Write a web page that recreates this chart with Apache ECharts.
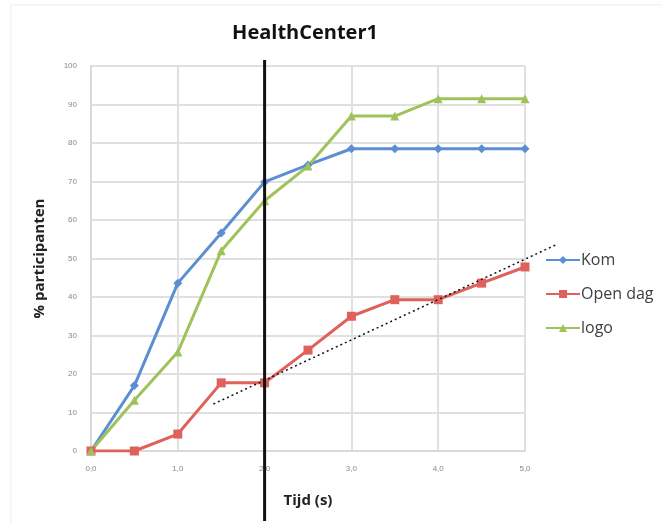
<!DOCTYPE html>
<html>
<head>
<meta charset="utf-8">
<script src="https://cdn.jsdelivr.net/npm/echarts@6/dist/echarts.min.js"></script>
<style>
  html, body { margin: 0; padding: 0; background: #fff; }
  #chart { width: 662px; height: 524px; }
</style>
</head>
<body>
<div id="chart"></div>
<script>
// tijdstippen (s)
const times = [0, 0.5, 1.0, 1.5, 2.0, 2.5, 3.0, 3.5, 4.0, 4.5, 5.0];
// % participanten per reeks
const kom = [0, 17, 43.6, 56.6, 69.9, 74.3, 78.5, 78.5, 78.5, 78.5, 78.5];
const openDag = [0, 0, 4.4, 17.7, 17.7, 26.2, 35, 39.3, 39.3, 43.6, 47.8];
const logo = [0, 13.2, 25.7, 52, 65, 74, 87, 87, 91.5, 91.5, 91.5];
// trendlijn (stippellijn) en verticale markering
const trendX = [1.41, 5.38];
const trendY = [12.2, 53.8];
const markerTime = 2.0;

const pairs = (xs, ys) => xs.map((t, i) => [t, ys[i]]);

const chart = echarts.init(document.getElementById('chart'));

const option = {
  animation: false,
  title: {
    text: 'HealthCenter1',
    left: 300,
    top: 18,
    textAlign: 'center',
    textStyle: { fontFamily: 'Open Sans', fontSize: 20, fontWeight: 'bold', color: '#111' }
  },
  legend: {
    orient: 'vertical',
    left: 540,
    top: 247,
    itemGap: 18,
    itemWidth: 34,
    itemHeight: 10,
    textStyle: { fontFamily: 'Open Sans', fontSize: 16, color: '#404040', padding: [0, 0, 0, -4] },
    data: ['Kom', 'Open dag', 'logo']
  },
  grid: { left: 91, right: 137, top: 66, bottom: 73 },
  xAxis: {
    type: 'value',
    min: 0,
    max: 5,
    interval: 1,
    name: 'Tijd (s)',
    nameLocation: 'middle',
    nameGap: 42,
    nameTextStyle: { fontFamily: 'Open Sans', fontSize: 15, fontWeight: 'bold', color: '#222' },
    axisLine: { lineStyle: { color: '#d9d9d9', width: 2 } },
    axisTick: { show: false },
    axisLabel: {
      fontSize: 8, color: '#888', margin: 14,
      formatter: v => v.toFixed(1).replace('.', ',')
    },
    splitLine: { show: true, lineStyle: { color: '#e0e0e0', width: 2 } }
  },
  yAxis: {
    type: 'value',
    min: 0,
    max: 100,
    interval: 10,
    name: '% participanten',
    nameLocation: 'middle',
    nameGap: 44,
    nameTextStyle: { fontFamily: 'Open Sans', fontSize: 15, fontWeight: 'bold', color: '#222' },
    axisLine: { show: true, lineStyle: { color: '#d9d9d9', width: 2 } },
    axisTick: { show: false },
    axisLabel: { fontSize: 8, color: '#888', margin: 14 },
    splitLine: { show: true, lineStyle: { color: '#e0e0e0', width: 2 } }
  },
  series: [
    {
      name: 'Kom',
      type: 'line',
      data: pairs(times, kom),
      symbol: 'diamond',
      symbolSize: 9,
      itemStyle: { color: '#5b8fd1' },
      lineStyle: { width: 3, color: '#5b8fd1' },
      z: 3
    },
    {
      name: 'Open dag',
      type: 'line',
      data: pairs(times, openDag),
      symbol: 'rect',
      symbolSize: 9,
      itemStyle: { color: '#e0605c' },
      lineStyle: { width: 3, color: '#e0605c' },
      z: 3
    },
    {
      name: 'logo',
      type: 'line',
      data: pairs(times, logo),
      symbol: 'triangle',
      symbolSize: 9,
      itemStyle: { color: '#9fc35a' },
      lineStyle: { width: 3, color: '#9fc35a' },
      z: 3
    }
  ]
};

chart.setOption(option);

// trendlijn en verticale lijn op t = 2,0, via de assen omgerekend naar pixels
const toPx = (x, y) => chart.convertToPixel({ gridIndex: 0 }, [x, y]);
const trendA = toPx(trendX[0], trendY[0]);
const trendB = toPx(trendX[1], trendY[1]);
const lineX = toPx(markerTime, 0)[0];
const yTop = toPx(0, 100)[1];
const yBottom = toPx(0, 0)[1];
chart.setOption({
  graphic: [
    {
      type: 'rect',
      z: -1,
      shape: { x: 11, y: 5, width: 700, height: 540 },
      style: { fill: 'none', stroke: '#f6f6f6', lineWidth: 2 }
    },
    {
      type: 'line',
      z: 9,
      shape: { x1: trendA[0], y1: trendA[1], x2: trendB[0], y2: trendB[1] },
      style: { stroke: '#111', lineWidth: 1.5, lineDash: [2, 3] }
    },
    {
      type: 'line',
      z: 10,
      shape: { x1: lineX, y1: yTop - 6, x2: lineX, y2: yBottom + 70 },
      style: { stroke: '#111', lineWidth: 3 }
    }
  ]
});
</script>
</body>
</html>
